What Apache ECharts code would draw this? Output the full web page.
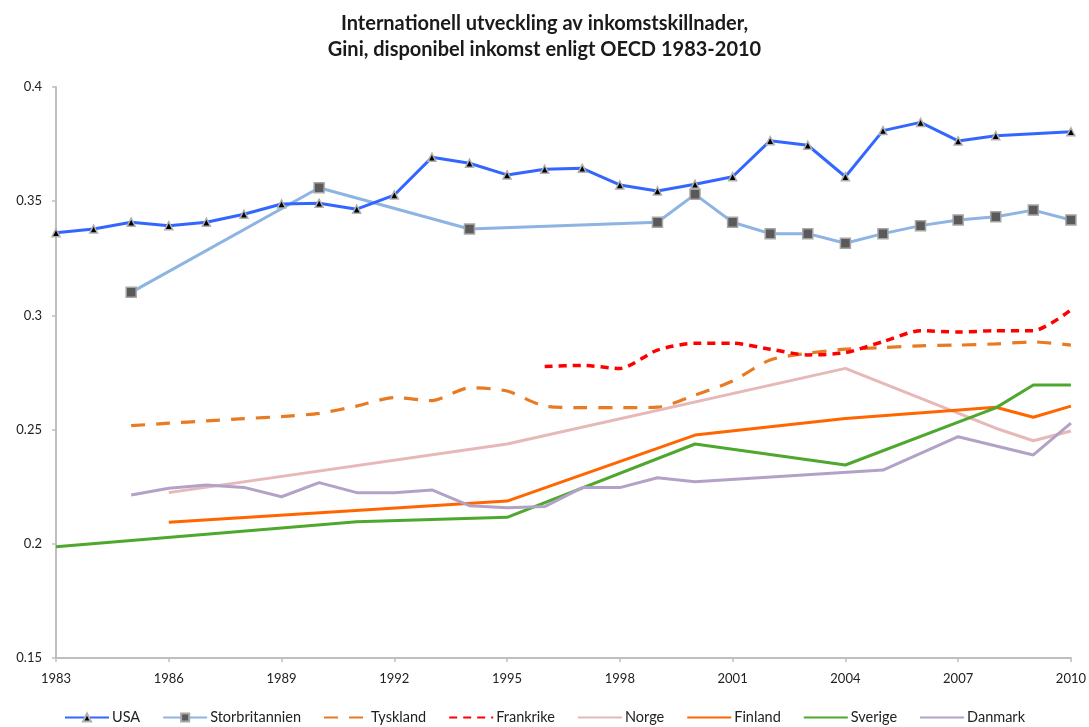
<!DOCTYPE html>
<html>
<head>
<meta charset="utf-8">
<script src="https://cdn.jsdelivr.net/npm/echarts@6/dist/echarts.min.js"></script>
<style>
  html, body { margin: 0; padding: 0; background: #ffffff; }
  #chart { width: 1089px; height: 727px; }
</style>
</head>
<body>
<div id="chart"></div>
<script>
// ---- Data (Gini, disposable income, OECD) ----
const usaYears = [1983,1984,1985,1986,1987,1988,1989,1990,1991,1992,1993,1994,1995,1996,1997,1998,1999,2000,2001,2002,2003,2004,2005,2006,2007,2008,2010];
const usaValues = [0.3362,0.3378,0.3408,0.3393,0.3408,0.3443,0.3488,0.3491,0.3465,0.3527,0.3692,0.3666,0.3615,0.3640,0.3644,0.3571,0.3545,0.3574,0.3607,0.3765,0.3745,0.3607,0.3809,0.3845,0.3764,0.3787,0.3804];

const ukYears = [1985,1990,1994,1999,2000,2001,2002,2003,2004,2005,2006,2007,2008,2009,2010];
const ukValues = [0.3101,0.3559,0.3378,0.3408,0.3530,0.3408,0.3358,0.3358,0.3316,0.3358,0.3393,0.3418,0.3432,0.3461,0.3418];

const deYears = [1985,1986,1987,1988,1989,1990,1991,1992,1993,1994,1995,1996,1997,1998,1999,2000,2001,2002,2003,2004,2005,2006,2007,2008,2009,2010];
const deValues = [0.2517,0.2528,0.2538,0.2548,0.2557,0.2571,0.2603,0.2640,0.2627,0.2683,0.2669,0.2603,0.2596,0.2596,0.2598,0.2651,0.2713,0.2805,0.2834,0.2852,0.2859,0.2867,0.2870,0.2875,0.2884,0.2870];

const frYears = [1996,1997,1998,1999,2000,2001,2002,2003,2004,2005,2006,2007,2008,2009,2010];
const frValues = [0.2776,0.2781,0.2768,0.2848,0.2878,0.2878,0.2852,0.2827,0.2837,0.2885,0.2933,0.2927,0.2933,0.2933,0.3024];

const noYears = [1986,1995,2004,2008,2009,2010];
const noValues = [0.2224,0.2437,0.2768,0.2506,0.2451,0.2494];

const fiYears = [1986,1995,2000,2004,2008,2009,2010];
const fiValues = [0.2094,0.2187,0.2476,0.2549,0.2598,0.2554,0.2603];

const seYears = [1983,1991,1995,2000,2004,2008,2009,2010];
const seValues = [0.1987,0.2097,0.2116,0.2437,0.2345,0.2595,0.2695,0.2695];

const dkYears = [1985,1986,1987,1988,1989,1990,1991,1992,1993,1994,1995,1996,1997,1998,1999,2000,2005,2007,2009,2010];
const dkValues = [0.2214,0.2243,0.2257,0.2247,0.2206,0.2268,0.2224,0.2224,0.2236,0.2167,0.2158,0.2163,0.2246,0.2246,0.2289,0.2272,0.2323,0.2469,0.2389,0.2528];

const seriesNames = ['USA','Storbritannien','Tyskland','Frankrike','Norge','Finland','Sverige','Danmark'];
const markerSeries = ['USA','Storbritannien'];
const xTickYears = [1983, 1986, 1989, 1992, 1995, 1998, 2001, 2004, 2007, 2010];
const yTicks = [0.15, 0.2, 0.25, 0.3, 0.35, 0.4];

function pairs(xs, ys) { return xs.map((x, i) => [x, ys[i]]); }

const FONT = 'Lato, "Liberation Sans", sans-serif';

const chart = echarts.init(document.getElementById('chart'), null, { renderer: 'canvas' });

const plainLine = (name, xs, ys, color, width, extra) => Object.assign({
  name: name,
  type: 'line',
  data: pairs(xs, ys),
  symbol: 'none',
  showSymbol: false,
  lineStyle: { color: color, width: width },
  itemStyle: { color: color },
  z: 2
}, extra || {});

const option = {
  backgroundColor: '#ffffff',
  animation: false,
  title: {
    text: 'Internationell utveckling av inkomstskillnader,\nGini, disponibel inkomst enligt OECD 1983-2010',
    left: 'center',
    top: 6,
    textStyle: { fontFamily: FONT, fontSize: 20, fontWeight: 'bold', color: '#1a1a1a', lineHeight: 26 }
  },
  legend: {
    bottom: -3,
    left: 'center',
    itemWidth: 44,
    itemHeight: 10,
    itemGap: 22,
    textStyle: { fontFamily: FONT, fontSize: 14.5, color: '#222', padding: [0, 0, 0, -2] },
    data: seriesNames.map(n => markerSeries.indexOf(n) >= 0
      ? { name: n }
      : { name: n, itemStyle: { opacity: 0 } })
  },
  grid: { left: 56, right: 17, top: 87, bottom: 69, containLabel: false },
  xAxis: {
    type: 'value',
    min: 1983,
    max: 2010,
    interval: 3,
    axisLine: { show: true, lineStyle: { color: '#BFBFBF', width: 2 } },
    axisTick: { show: true, length: 4, lineStyle: { color: '#BFBFBF', width: 1.5 } },
    splitLine: { show: false },
    axisLabel: {
      fontFamily: FONT, fontSize: 13, color: '#222', margin: 14,
      formatter: v => xTickYears.indexOf(Math.round(v)) >= 0 ? String(Math.round(v)) : ''
    }
  },
  yAxis: {
    type: 'value',
    min: 0.15,
    max: 0.4,
    interval: 0.05,
    axisLine: { show: true, lineStyle: { color: '#BFBFBF', width: 2 } },
    axisTick: { show: true, length: 4, lineStyle: { color: '#BFBFBF', width: 1.5 } },
    splitLine: { show: false },
    axisLabel: {
      fontFamily: FONT, fontSize: 13, color: '#222', margin: 14,
      formatter: v => {
        const t = yTicks.find(k => Math.abs(k - v) < 1e-6);
        return t === undefined ? '' : String(t);
      }
    }
  },
  series: [
    {
      name: 'USA', type: 'line', data: pairs(usaYears, usaValues),
      symbol: 'triangle', symbolSize: 8, showSymbol: true,
      lineStyle: { color: '#3366FF', width: 3 },
      itemStyle: { color: '#000000', borderColor: '#B0B0B0', borderWidth: 1.5 },
      z: 5
    },
    {
      name: 'Storbritannien', type: 'line', data: pairs(ukYears, ukValues),
      symbol: 'rect', symbolSize: 10, showSymbol: true,
      lineStyle: { color: '#8DB4E2', width: 3 },
      itemStyle: { color: '#5A5A5A', borderColor: '#A6A6A6', borderWidth: 1.5 },
      z: 4
    },
    plainLine('Tyskland', deYears, deValues, '#E46C0A', 3,
      { smooth: 0.25, lineStyle: { color: '#E87A22', width: 3.2, type: [14, 11] } }),
    plainLine('Frankrike', frYears, frValues, '#FF0000', 3,
      { smooth: 0.25, lineStyle: { color: '#FF0000', width: 3.5, type: [8, 6] } }),
    plainLine('Norge', noYears, noValues, '#E6B9B8', 3),
    plainLine('Finland', fiYears, fiValues, '#FF6600', 3),
    plainLine('Sverige', seYears, seValues, '#4EA72E', 3),
    plainLine('Danmark', dkYears, dkValues, '#B3A2C7', 3)
  ]
};

chart.setOption(option);
</script>
</body>
</html>
